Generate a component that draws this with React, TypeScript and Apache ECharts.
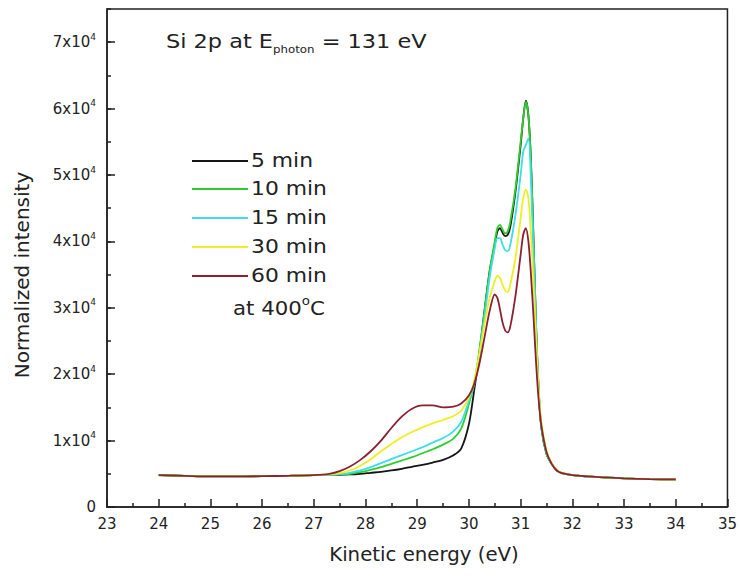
import React, { useEffect, useRef } from "react";
import * as echarts from "echarts";

// ---------- data ----------
const energy = [
  24.0, 24.5, 25.0, 25.5, 26.0, 26.5, 27.0, 27.3, 27.5, 27.7, 27.9, 28.1, 28.3, 28.5, 28.7, 28.9,
  29.1, 29.3, 29.5, 29.7, 29.85, 30.0, 30.1, 30.2, 30.3, 30.4, 30.5, 30.55, 30.6, 30.65, 30.7,
  30.75, 30.8, 30.9, 31.0, 31.05, 31.1, 31.15, 31.2, 31.25, 31.3, 31.35, 31.4, 31.5, 31.6, 31.7,
  31.8, 32.0, 32.3, 32.6, 33.0, 33.5, 34.0,
];

const min5 = [
  4800, 4700, 4600, 4600, 4650, 4700, 4800, 4850, 4850, 4900, 5000, 5150, 5300, 5500, 5750, 6050,
  6350, 6700, 7100, 7800, 8800, 12500, 17500, 23000, 29500, 35500, 39500, 41500, 42000, 41300, 40800,
  41000, 42200, 47500, 54500, 58500, 61200, 59000, 52000, 40000, 27000, 17500, 12000, 8000, 6500, 5500,
  5100, 4800, 4600, 4450, 4300, 4200, 4150,
];

const min10 = [
  4800, 4700, 4600, 4600, 4650, 4700, 4800, 4850, 4900, 5000, 5250, 5600, 6000, 6500, 7000, 7500,
  8100, 8700, 9400, 10300, 11800, 15500, 18500, 23500, 29500, 35500, 40000, 42000, 42500, 41800, 41200,
  41500, 43000, 48000, 55000, 58500, 61000, 59000, 52000, 40000, 27000, 17500, 12000, 8000, 6500, 5500,
  5100, 4800, 4600, 4450, 4300, 4200, 4150,
];

const min15 = [
  4800, 4700, 4600, 4600, 4650, 4700, 4800, 4850, 4950, 5150, 5500, 6000, 6600, 7200, 7800, 8400,
  9000, 9700, 10400, 11400, 12800, 16000, 18500, 23000, 28500, 34500, 39000, 40500, 40500, 39500, 38700,
  38500, 39500, 44000, 50000, 53500, 54500, 55500, 49000, 38000, 26500, 17500, 12300, 8200, 6500, 5500,
  5100, 4800, 4600, 4450, 4300, 4200, 4150,
];

const min30 = [
  4800, 4700, 4600, 4600, 4650, 4700, 4800, 4900, 5100, 5500, 6200, 7200, 8400, 9500, 10500, 11300,
  12000, 12600, 13100, 13700, 14500, 16500, 19000, 23000, 27500, 31500, 34000, 34800, 34500, 33500, 32600,
  32400, 33500, 37500, 43500, 46500, 47800, 46500, 41000, 33500, 25000, 17500, 12800, 8500, 6600, 5600,
  5150, 4800, 4600, 4450, 4300, 4200, 4150,
];

const min60 = [
  4800, 4700, 4600, 4600, 4650, 4700, 4800, 5000, 5400, 6100, 7100, 8400, 10000, 11900, 13600, 14800,
  15300, 15300, 15000, 15100, 15600, 16800, 18500, 21500, 25500, 29500, 32000, 31500, 29800, 27800, 26600,
  26300, 27200, 31800, 38000, 41000, 42000, 40000, 35000, 28500, 21500, 16000, 12300, 8300, 6500, 5500,
  5100, 4800, 4600, 4450, 4300, 4200, 4150,
];

const seriesNames = ["5 min", "10 min", "15 min", "30 min", "60 min"];
const seriesValues = [min5, min10, min15, min30, min60];
const seriesColors = ["#151515", "#2fcc2f", "#3fdde6", "#eeee22", "#8a2133"];

const xTicks = { min: 23, max: 35, interval: 1 };
const yTicks = { min: 0, max: 75000, interval: 10000, minorInterval: 5000 };

const FONT = "'DejaVu Sans', 'Liberation Sans', sans-serif";
const INK = "#222";

export default function App() {
  const ref = useRef<HTMLDivElement>(null);

  useEffect(() => {
    document.body.style.margin = "0";
    const chart = echarts.init(ref.current!, null, { renderer: "svg" });

    const legendYs = [161, 189, 218, 247, 276];
    const legendGraphics: any[] = [];
    seriesNames.forEach((name, i) => {
      legendGraphics.push({
        type: "line",
        shape: { x1: 192, y1: legendYs[i], x2: 248, y2: legendYs[i] },
        style: { stroke: seriesColors[i], lineWidth: 2 },
      });
      legendGraphics.push({
        type: "text",
        x: 251,
        y: legendYs[i],
        scaleX: 1.15,
        style: {
          text: name,
          font: `19px ${FONT}`,
          fill: INK,
          align: "left",
          verticalAlign: "middle",
        },
      });
    });

    const option: any = {
      animation: false,
      backgroundColor: "#fff",
      grid: {
        left: 107,
        right: 11,
        top: 9,
        bottom: 69,
        show: true,
        borderColor: INK,
        borderWidth: 1.5,
        backgroundColor: "transparent",
      },
      xAxis: {
        type: "value",
        min: xTicks.min,
        max: xTicks.max,
        interval: xTicks.interval,
        axisLine: { show: true, lineStyle: { color: INK, width: 1.5 } },
        axisTick: { show: true, inside: true, length: 8, lineStyle: { color: INK, width: 1.5 } },
        minorTick: { show: true, splitNumber: 2, length: 4, lineStyle: { color: INK, width: 1.5 } },
        splitLine: { show: false },
        axisLabel: { color: INK, fontSize: 15, fontFamily: FONT, margin: 9 },
      },
      yAxis: [
        {
          type: "value",
          min: yTicks.min,
          max: yTicks.max,
          interval: yTicks.interval,
          axisLine: { show: true, lineStyle: { color: INK, width: 1.5 } },
          axisTick: { show: true, inside: true, length: 8, lineStyle: { color: INK, width: 1.5 } },
          splitLine: { show: false },
          axisLabel: {
            color: INK,
            fontSize: 15,
            fontFamily: FONT,
            margin: 11,
            showMaxLabel: false,
            formatter: (v: number) => (v === 0 ? "0" : `{a|${v / 10000}x10}{s|4}`),
            rich: {
              a: { fontSize: 15, fontFamily: FONT, color: INK, lineHeight: 20 },
              s: { fontSize: 9, fontFamily: FONT, color: INK, lineHeight: 10, verticalAlign: "top" },
            },
          },
        },
        {
          type: "value",
          min: yTicks.min,
          max: yTicks.max,
          interval: yTicks.minorInterval,
          position: "left",
          axisLine: { show: false },
          axisTick: { show: true, inside: true, length: 4, lineStyle: { color: INK, width: 1.5 } },
          axisLabel: { show: false },
          splitLine: { show: false },
        },
      ],
      series: seriesNames.map((name, i) => ({
        name,
        type: "line",
        yAxisIndex: 0,
        data: energy.map((x, k) => [x, seriesValues[i][k]]),
        showSymbol: false,
        symbol: "none",
        smooth: 0.3,
        lineStyle: { color: seriesColors[i], width: 1.8 },
        itemStyle: { color: seriesColors[i] },
        z: 2 + i,
      })),
      graphic: [
        {
          type: "text",
          x: 166,
          y: 42,
          scaleX: 1.18,
          style: {
            text: "{m|Si 2p at E}{sub|photon}{m| = 131 eV}",
            fill: INK,
            align: "left",
            verticalAlign: "middle",
            rich: {
              m: { font: `19px ${FONT}`, fill: INK, lineHeight: 26 },
              sub: { font: `10px ${FONT}`, fill: INK, lineHeight: 10, verticalAlign: "bottom" },
            },
          },
        },
        ...legendGraphics,
        {
          type: "text",
          x: 233,
          y: 308,
          scaleX: 1.12,
          style: {
            text: "{m|at 400}{s|o}{m|C}",
            fill: INK,
            align: "left",
            verticalAlign: "middle",
            rich: {
              m: { font: `19px ${FONT}`, fill: INK, lineHeight: 26 },
              s: { font: `12px ${FONT}`, fill: INK, lineHeight: 12, verticalAlign: "top" },
            },
          },
        },
        {
          type: "text",
          x: 22,
          y: 275,
          rotation: Math.PI / 2,
          style: {
            text: "Normalized intensity",
            font: `20px ${FONT}`,
            fill: INK,
            align: "center",
            verticalAlign: "middle",
          },
        },
        {
          type: "text",
          x: 424,
          y: 555,
          scaleX: 1.04,
          style: {
            text: "Kinetic energy (eV)",
            font: `19px ${FONT}`,
            fill: INK,
            align: "center",
            verticalAlign: "middle",
          },
        },
      ],
    };

    chart.setOption(option);
    return () => chart.dispose();
  }, []);

  return (
    <div
      ref={ref}
      style={{ position: "fixed", left: 0, top: 0, width: 740, height: 576, background: "#fff" }}
    />
  );
}
